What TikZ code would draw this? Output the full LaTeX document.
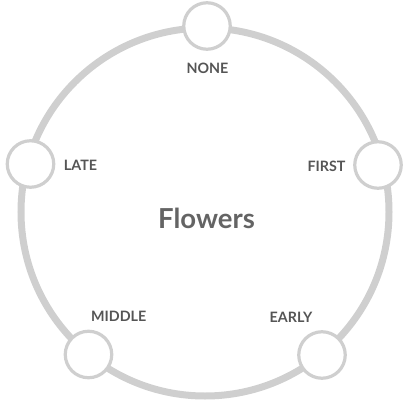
\documentclass[tikz,border=0pt]{standalone}
\usepackage{fontspec}
\setmainfont{Lato}
\definecolor{ringgray}{HTML}{CFCFCF}
\definecolor{labelgray}{HTML}{555555}
\definecolor{titlegray}{HTML}{646464}
\begin{document}
\begin{tikzpicture}[x=1pt,y=-1pt,
  ring/.style={circle, draw=ringgray, line width=7pt, minimum size=368pt, inner sep=0pt},
  dot/.style={circle, draw=ringgray, fill=white, line width=3.2pt, minimum size=46.5pt, inner sep=0pt},
  lbl/.style={font=\fontsize{14.3}{16}\selectfont\bfseries, text=labelgray, inner sep=0pt},
  title/.style={font=\fontsize{27.5}{30}\selectfont\bfseries, text=titlegray, inner sep=0pt}]
\useasboundingbox (0,0) rectangle (402,404);
\node[ring] (ring) at (205,212) {};
\node[dot] (none) at (207,26) {};
\node[dot] (first) at (378,165) {};
\node[dot] (early) at (322,355) {};
\node[dot] (middle) at (88.5,354.5) {};
\node[dot] (late) at (30.5,164) {};
\node[lbl] (tnone) at (207.5,68) {NONE};
\node[lbl] (tfirst) at (326.5,166) {FIRST};
\node[lbl] (tearly) at (291,317) {EARLY};
\node[lbl] (tmiddle) at (118.7,316.7) {MIDDLE};
\node[lbl] (tlate) at (80.5,165.7) {LATE};
\node[title] (center) at (206.5,218) {Flowers};
\end{tikzpicture}
\end{document}
